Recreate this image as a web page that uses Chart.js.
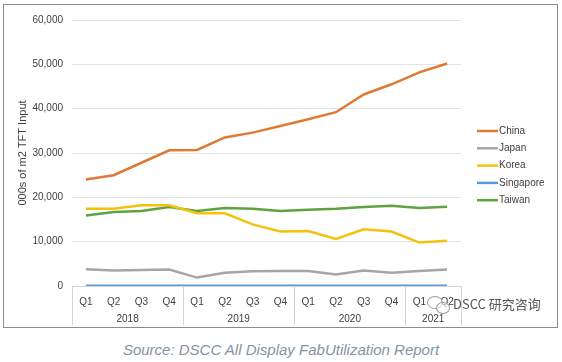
<!DOCTYPE html>
<html>
<head>
<meta charset="utf-8">
<script src="https://cdn.jsdelivr.net/npm/chart.js@4.4.1/dist/chart.umd.min.js"></script>
<style>
  body { margin: 0; background: #fff; width: 562px; height: 362px; position: relative; overflow: hidden; font-family: "Liberation Sans", Arial, sans-serif; }
  #frame { position: absolute; left: 3px; top: 4px; width: 553px; height: 322px; border: 1px solid #8c8c8c; }
  #source { position: absolute; left: 0; width: 562px; top: 341px; text-align: center; font-style: italic; font-size: 15px; color: #8494a4; }
  #mark { position: absolute; left: 453px; top: 294px; font-family: "Noto Sans CJK SC", sans-serif; font-size: 13px; color: #555; }
  .bub { position: absolute; border: 1.5px solid #9a9a9a; border-radius: 50%; background: rgba(255,255,255,0.6); }
</style>
</head>
<body>
<div id="frame"><canvas id="chart" width="553" height="322"></canvas></div>
<div class="bub" style="left:427px;top:296px;width:14px;height:11px;"></div>
<div class="bub" style="left:436px;top:302px;width:12px;height:10px;"></div>
<div id="mark">DSCC 研究咨询</div>
<div id="source">Source: DSCC All Display FabUtilization Report</div>
<script>
const quarters = ["Q1", "Q2", "Q3", "Q4", "Q1", "Q2", "Q3", "Q4", "Q1", "Q2", "Q3", "Q4", "Q1", "Q2"];
const years = ["2018", "2019", "2020", "2021"];
const quartersPerYear = [4, 4, 4, 2];

const china = [24000, 25000, 27800, 30600, 30700, 33500, 34600, 36100, 37600, 39200, 43200, 45500, 48200, 50200];
const japan = [3800, 3500, 3600, 3700, 1900, 3000, 3300, 3400, 3400, 2600, 3500, 3000, 3400, 3700];
const korea = [17400, 17400, 18200, 18200, 16400, 16400, 13900, 12300, 12400, 10600, 12800, 12300, 9800, 10200];
const singapore = [50, 50, 50, 50, 50, 50, 50, 50, 50, 50, 50, 50, 50, 50];
const taiwan = [15900, 16700, 16900, 17800, 16900, 17600, 17400, 16900, 17200, 17400, 17800, 18100, 17600, 17900];

const FONT = "'Liberation Sans', Arial, sans-serif";

function line(label, data, color) {
  return { label, data, borderColor: color, backgroundColor: color, borderWidth: 2.5, pointRadius: 0, tension: 0 };
}

// year row under the quarter labels, with separators like Excel's multi-level axis
const yearAxis = {
  id: "yearAxis",
  afterDraw(chart) {
    const ctx = chart.ctx;
    const x = chart.scales.x;
    const w = x.getPixelForValue(1) - x.getPixelForValue(0);
    const top = chart.chartArea.bottom;
    ctx.save();
    ctx.strokeStyle = "#d4d4d4";
    ctx.lineWidth = 1;
    ctx.fillStyle = "#404040";
    ctx.font = "10px " + FONT;
    ctx.textAlign = "center";
    ctx.textBaseline = "middle";
    let start = 0;
    years.forEach((yr, i) => {
      const end = start + quartersPerYear[i] - 1;
      const left = x.getPixelForValue(start) - w / 2;
      const right = x.getPixelForValue(end) + w / 2;
      ctx.beginPath();
      ctx.moveTo(Math.round(left) + 0.5, top);
      ctx.lineTo(Math.round(left) + 0.5, top + 39);
      if (i === years.length - 1) {
        ctx.moveTo(Math.round(right) + 0.5, top);
        ctx.lineTo(Math.round(right) + 0.5, top + 39);
      }
      ctx.stroke();
      ctx.fillText(yr, (left + right) / 2, top + 33);
      start = end + 1;
    });
    ctx.restore();
  }
};

// legend on the right, lines + names
const sideLegend = {
  id: "sideLegend",
  afterDraw(chart) {
    const ctx = chart.ctx;
    ctx.save();
    ctx.font = "10px " + FONT;
    ctx.fillStyle = "#404040";
    ctx.textBaseline = "middle";
    chart.data.datasets.forEach((ds, i) => {
      const y = 126 + i * 17.3;
      ctx.strokeStyle = ds.borderColor;
      ctx.lineWidth = 2.5;
      ctx.beginPath();
      ctx.moveTo(473, y);
      ctx.lineTo(494, y);
      ctx.stroke();
      ctx.fillText(ds.label, 495, y);
    });
    ctx.restore();
  }
};

new Chart(document.getElementById("chart"), {
  type: "line",
  data: {
    labels: quarters,
    datasets: [
      line("China", china, "#df7a36"),
      line("Japan", japan, "#a5a5a5"),
      line("Korea", korea, "#f4c20d"),
      line("Singapore", singapore, "#5b9bd5"),
      line("Taiwan", taiwan, "#5fa33e"),
    ],
  },
  options: {
    responsive: false,
    animation: false,
    layout: { padding: { top: 11, right: 96, bottom: 0, left: 0 } },
    plugins: { legend: { display: false }, tooltip: { enabled: false } },
    scales: {
      x: {
        offset: true,
        grid: { display: false },
        border: { display: true, color: "#d4d4d4" },
        ticks: { color: "#404040", font: { size: 10, family: FONT }, padding: 2, maxRotation: 0, autoSkip: false },
        afterFit: (s) => { s.height = 41; },
      },
      y: {
        min: 0,
        max: 60000,
        grid: { color: "#e2e2e2", drawTicks: false },
        border: { display: false },
        ticks: {
          stepSize: 10000,
          padding: 9,
          color: "#404040",
          font: { size: 10, family: FONT },
          callback: (v) => v.toLocaleString("en-US"),
        },
        title: { display: true, text: "000s of m2 TFT Input", color: "#404040", font: { size: 11, family: FONT }, padding: { top: 12 } },
        afterFit: (s) => { s.width = 68; },
      },
    },
  },
  plugins: [yearAxis, sideLegend],
});
</script>
</body>
</html>
